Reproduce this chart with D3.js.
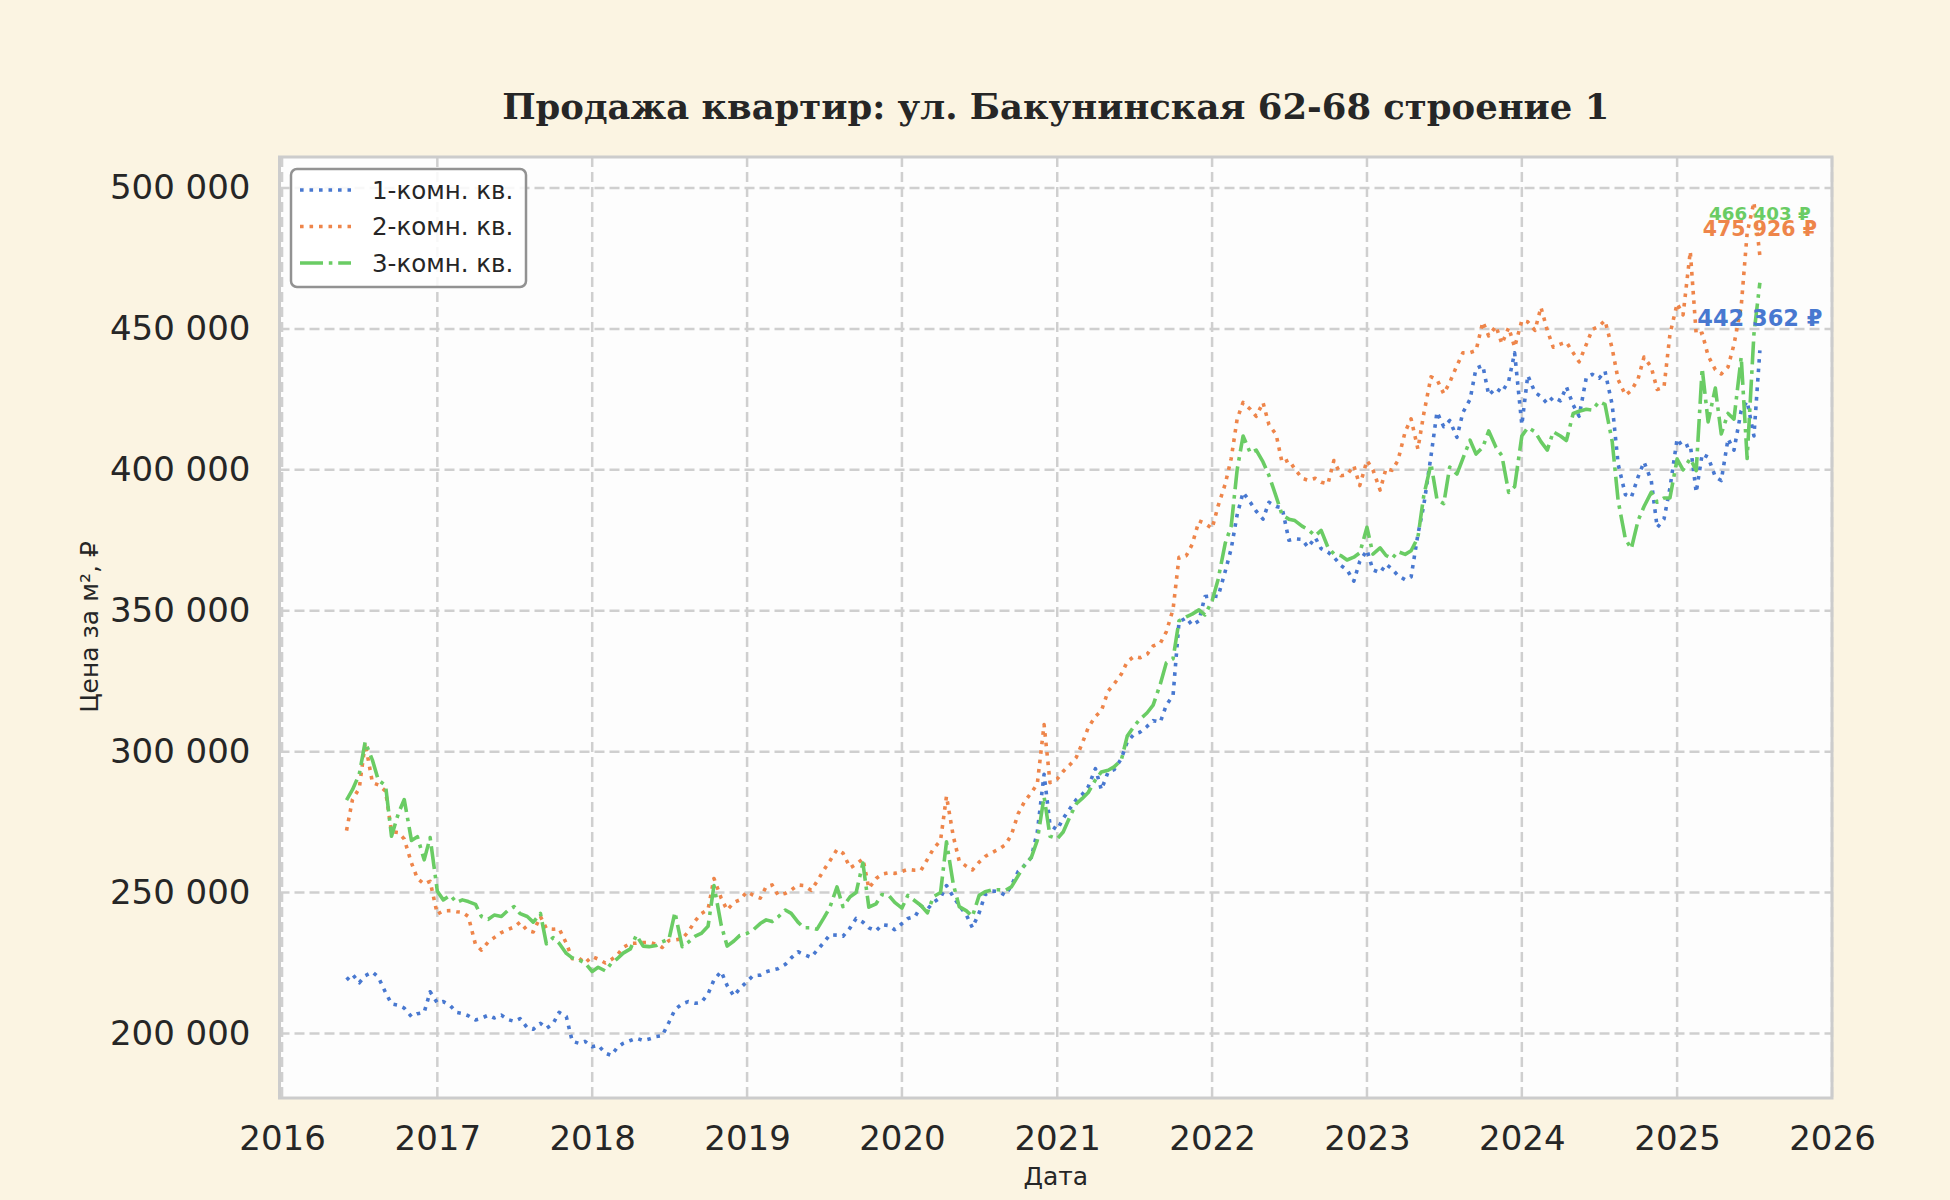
<!DOCTYPE html>
<html>
<head>
<meta charset="utf-8">
<script src="https://cdn.jsdelivr.net/npm/d3@7"></script>
<style>
    body { margin: 0; background: #fbf4e2; }
    svg text { font-family: "DejaVu Sans", sans-serif; fill: #262626; }
</style>
</head>
<body>
<div id="chart"></div>
<script>
/*
    Sampling grid: the 1st and 15th of each month, June 2016 .. July 2025
*/
var dates = d3.timeMonth.range(new Date(2016, 5, 1), new Date(2025, 7, 1))
    .flatMap(function (m) { return [m, d3.timeDay.offset(m, 14)]; });

var yearTicks = [2016, 2017, 2018, 2019, 2020, 2021, 2022, 2023, 2024, 2025, 2026];
var priceTicks = [200000, 250000, 300000, 350000, 400000, 450000, 500000];

var seriesNames = ["1-комн. кв.", "2-комн. кв.", "3-комн. кв."];

/*
    Price per m2 (same length as dates)
*/
var oneRoom = [
    219000, 221000, 218000, 220500, 221800, 220000, 214500, 210500, 210000, 209000, 206000, 207000, 207500, 214800,
    210800, 211300, 209800, 207500, 207100, 206300, 204800, 205400, 206500, 205500, 206500, 205000,
    204300, 205300, 202000, 201500, 203600, 201800, 203500, 207500, 206000, 197200, 196500, 197200,
    195300, 195800, 193000, 192200, 195000, 196500, 197500, 198300, 197500, 198000, 198900, 199200,
    204000, 208500, 210500, 211300, 210700, 211000, 214000, 219000, 222000, 217000, 213300, 216000,
    218400, 220500, 220700, 221900, 222500, 223000, 224500, 226800, 229000, 228000, 227000, 229500,
    232300, 235000, 234900, 234500, 237500, 240800, 239500, 237500, 236400, 238600, 238300, 236800,
    239000, 240800, 241500, 245200, 244100, 246500, 248200, 252500, 248500, 245400, 242000, 237500,
    242800, 249300, 250500, 250400, 249000, 252500, 257500, 259500, 262500, 271500, 292000, 274000,
    272300, 276300, 280000, 283000, 284800, 287500, 294000, 286500, 292800, 293600, 297500, 303500,
    306200, 306900, 309000, 311000, 310500, 316500, 320000, 346000, 347500, 344900, 346400, 355000,
    355300, 355000, 364000, 372000, 384000, 392000, 388500, 385300, 382500, 388500, 387000, 386500,
    375000, 375500, 375300, 372500, 376000, 372000, 370800, 369000, 366000, 364500, 360500, 367500,
    371500, 364500, 363500, 366500, 364800, 362500, 361000, 362000, 377000, 387500, 405000, 420500,
    415300, 417500, 411500, 420300, 425000, 436000, 437000, 426500, 429000, 427500, 431500, 441500,
    416000, 433500, 427500, 426000, 423500, 425800, 424500, 429500, 423000, 419000, 432800, 433900,
    432500, 435000, 423000, 402000, 391200, 390200, 397500, 402800, 396200, 379500, 382500, 393500,
    411000, 408000, 409000, 392000, 405600, 404500, 397500, 396200, 411000, 407000, 421000, 424300, 412000, 442362
];
var twoRoom = [
    272000, 283000, 287000, 303000, 289000, 288200, 286000, 271600, 271300, 269000, 260500, 255000, 253000, 254000,
    242300, 243500, 243600, 243200, 243000, 241500, 231500, 229600, 232500, 234000, 235800, 236800,
    237800, 239500, 236500, 236000, 241500, 237200, 237000, 237200, 232000, 226500, 226700, 225000,
    227300, 226400, 225000, 226200, 227800, 230500, 232000, 232000, 232300, 232300, 231700, 230500,
    233000, 233200, 233600, 236000, 240000, 242500, 244000, 255000, 248000, 243800, 246500, 247400,
    250300, 249100, 248000, 252100, 252700, 249100, 249700, 250900, 252700, 252500, 250800, 254000,
    258000, 261200, 265300, 264000, 258800, 260000, 262000, 251500, 255000, 256500, 257000, 256800,
    257500, 258200, 257900, 257900, 261800, 265500, 268500, 284200, 270000, 261200, 259300, 258000,
    260800, 262800, 264200, 265300, 267000, 270500, 278000, 282000, 285500, 288500, 309600, 289000,
    290300, 293000, 295500, 298000, 303000, 308500, 312500, 314500, 321500, 324000, 327500, 331900,
    333800, 333300, 334600, 337500, 338500, 342500, 350500, 369000, 369500, 373500, 381900, 381000,
    379200, 387100, 395000, 404000, 418000, 423900, 421500, 419000, 423900, 416000, 412500, 402500,
    403500, 400300, 397000, 396300, 397000, 395600, 395000, 403300, 397900, 398200, 401500, 394400,
    403300, 400000, 392800, 400500, 399800, 403300, 413500, 418100, 407400, 420000, 433000, 432000,
    427000, 431000, 437000, 441500, 441600, 442300, 452500, 447500, 451000, 444700, 450500, 443500,
    453000, 452500, 449500, 457700, 449500, 443500, 444600, 445300, 441500, 438300, 444500, 449800,
    451000, 453000, 443000, 432000, 426500, 428100, 432300, 440000, 436400, 428500, 429300, 448000,
    459000, 455000, 477500, 448000, 448500, 440500, 435500, 434000, 436500, 444500, 458000, 484000, 495000, 475926
];
var threeRoom = [
    282800, 286500, 292000, 303500, 297000, 289900, 288000, 270000, 278000, 283000, 268500, 269800, 261600, 269500,
    250500, 247400, 249000, 246500, 247400, 246800, 245800, 241500, 240500, 242000, 241500, 243500,
    245000, 242500, 241500, 239500, 242600, 231800, 234000, 232000, 228400, 226800, 226100, 225000,
    222000, 223500, 222200, 224900, 226500, 228500, 230000, 234900, 231000, 230800, 231200, 232500,
    233500, 243000, 230800, 232300, 234500, 235500, 238000, 252500, 238500, 231000, 232800, 234800,
    235500, 236700, 239000, 240300, 239700, 241300, 243800, 242600, 239500, 237500, 237500, 237000,
    241000, 244700, 252000, 245000, 248500, 250000, 260500, 244800, 246000, 249300, 249000, 246500,
    244500, 249000, 247000, 245400, 242800, 248500, 250000, 268000, 253000, 245000, 243500, 241500,
    249000, 250300, 251000, 251000, 250800, 252000, 256000, 259500, 262500, 268500, 284000, 270000,
    269100, 271500, 277300, 281500, 283400, 285500, 290000, 292800, 293400, 294600, 297000, 305500,
    309000, 311500, 313800, 316500, 324000, 331500, 333000, 346400, 347800, 348800, 350300, 348500,
    353500, 361000, 374000, 380000, 400000, 412000, 406000, 407000, 402800, 398000, 390500, 384000,
    382500, 382000, 380000, 378800, 376600, 378500, 372500, 370200, 369500, 368000, 369000, 370500,
    379600, 370100, 372300, 369600, 368500, 371000, 370000, 371300, 376000, 391000, 402100, 389500,
    388000, 401000, 398500, 404000, 410500, 405600, 408000, 413800, 408000, 405000, 392000, 394000,
    412000, 415000, 413500, 410000, 407000, 413500, 412000, 410400, 420000, 420800, 421500, 421200,
    424200, 423200, 410000, 389000, 375500, 372000, 382000, 387000, 392000, 388500, 390000, 390000,
    403800, 400000, 404000, 399700, 436000, 417000, 429000, 412700, 420000, 418000, 440000, 404000, 448200, 466403
];

/*
    Figure geometry
*/
var W = 1950, H = 1200,
    plot = { left: 279.5, right: 1832, top: 157, bottom: 1098 };

var svg = d3.select("#chart").append("svg")
    .attr("width", W)
    .attr("height", H);

svg.append("rect")
    .attr("width", W).attr("height", H)
    .attr("fill", "#fbf4e2");

var x = d3.scaleTime()
    .domain([new Date(2015, 11, 26), new Date(2026, 0, 1)])
    .range([plot.left, plot.right]);

var y = d3.scaleLinear()
    .domain([177100, 511000])
    .range([plot.bottom, plot.top]);

var fmtPrice = function (v) { return d3.format(",")(v).replace(/,/g, " "); };

/*
    Plot area background + grid
*/
svg.append("rect")
    .attr("x", plot.left).attr("y", plot.top)
    .attr("width", plot.right - plot.left)
    .attr("height", plot.bottom - plot.top)
    .attr("fill", "#fdfdfd");

var grid = svg.append("g").attr("class", "grid")
    .attr("stroke", "#cfcfcf")
    .attr("stroke-width", 2.5)
    .attr("stroke-dasharray", "10,5");

grid.selectAll("line.v")
    .data(yearTicks)
    .enter().append("line")
    .attr("class", "v")
    .attr("x1", function (d) { return x(new Date(d, 0, 1)); })
    .attr("x2", function (d) { return x(new Date(d, 0, 1)); })
    .attr("y1", plot.top)
    .attr("y2", plot.bottom);

grid.selectAll("line.h")
    .data(priceTicks)
    .enter().append("line")
    .attr("class", "h")
    .attr("x1", plot.left)
    .attr("x2", plot.right)
    .attr("y1", function (d) { return y(d); })
    .attr("y2", function (d) { return y(d); });

/*
    Axes (labels only, no tick marks)
*/
var xAxis = d3.axisBottom(x)
    .tickValues(yearTicks.map(function (yr) { return new Date(yr, 0, 1); }))
    .tickFormat(d3.timeFormat("%Y"))
    .tickSize(0)
    .tickPadding(28);

var yAxis = d3.axisLeft(y)
    .tickValues(priceTicks)
    .tickFormat(fmtPrice)
    .tickSize(0)
    .tickPadding(29);

svg.append("g")
    .attr("transform", "translate(0," + plot.bottom + ")")
    .call(xAxis)
    .call(function (g) { g.select(".domain").remove(); })
    .selectAll("text")
    .attr("font-size", 34)
    .attr("font-family", "DejaVu Sans")
    .attr("fill", "#262626");

svg.append("g")
    .attr("transform", "translate(" + plot.left + ",0)")
    .call(yAxis)
    .call(function (g) { g.select(".domain").remove(); })
    .selectAll("text")
    .attr("font-size", 34)
    .attr("font-family", "DejaVu Sans")
    .attr("fill", "#262626");

/*
    Series lines
*/
var series = [
    { name: seriesNames[0], values: oneRoom, color: "#4878d0", width: 3.6, dash: "3.6,5.9" },
    { name: seriesNames[1], values: twoRoom, color: "#ee854a", width: 3.6, dash: "3.6,5.9" },
    { name: seriesNames[2], values: threeRoom, color: "#6acc64", width: 3.6, dash: "23,5.8,3.6,5.8" }
];

var line = d3.line()
    .x(function (d, i) { return x(dates[i]); })
    .y(function (d) { return y(d); });

svg.append("clipPath").attr("id", "plotClip")
    .append("rect")
    .attr("x", plot.left).attr("y", plot.top)
    .attr("width", plot.right - plot.left)
    .attr("height", plot.bottom - plot.top);

svg.append("g")
    .attr("clip-path", "url(#plotClip)")
    .selectAll("path")
    .data(series)
    .enter().append("path")
    .attr("d", function (d) { return line(d.values); })
    .attr("fill", "none")
    .attr("stroke", function (d) { return d.color; })
    .attr("stroke-width", function (d) { return d.width; })
    .attr("stroke-dasharray", function (d) { return d.dash; })
    .attr("stroke-linejoin", "round");

/*
    Last-value labels
*/
var lastDate = dates[dates.length - 1];
var endLabels = [
    { s: series[0], size: 22.5, lift: 24 },
    { s: series[1], size: 20.5, lift: 20 },
    { s: series[2], size: 18.3, lift: 63 }
];
svg.append("g").selectAll("text")
    .data(endLabels)
    .enter().append("text")
    .attr("x", x(lastDate))
    .attr("y", function (d) { return y(d.s.values[d.s.values.length - 1]) - d.lift; })
    .attr("text-anchor", "middle")
    .attr("font-weight", "bold")
    .attr("font-size", function (d) { return d.size; })
    .style("fill", function (d) { return d.s.color; })
    .text(function (d) { return fmtPrice(d.s.values[d.s.values.length - 1]) + " ₽"; });

/*
    Spines
*/
svg.append("rect")
    .attr("x", plot.left).attr("y", plot.top)
    .attr("width", plot.right - plot.left)
    .attr("height", plot.bottom - plot.top)
    .attr("fill", "none")
    .attr("stroke", "#cccccc")
    .attr("stroke-width", 3);

/*
    Legend
*/
var legend = svg.append("g").attr("transform", "translate(291,169)");
legend.append("rect")
    .attr("width", 235).attr("height", 118)
    .attr("rx", 6).attr("ry", 6)
    .attr("fill", "#ffffff").attr("fill-opacity", 0.85)
    .attr("stroke", "#929292").attr("stroke-width", 2.5);

var rows = legend.selectAll("g.row")
    .data(series)
    .enter().append("g")
    .attr("class", "row")
    .attr("transform", function (d, i) { return "translate(0," + (21 + i * 36.5) + ")"; });

rows.append("line")
    .attr("x1", 9).attr("x2", 60)
    .attr("stroke", function (d) { return d.color; })
    .attr("stroke-width", function (d) { return d.width; })
    .attr("stroke-dasharray", function (d) { return d.dash; });

rows.append("text")
    .attr("x", 81)
    .attr("dy", "0.35em")
    .attr("font-size", 24.5)
    .text(function (d) { return d.name; });

/*
    Titles
*/
svg.append("text")
    .attr("x", (plot.left + plot.right) / 2)
    .attr("y", 119)
    .attr("text-anchor", "middle")
    .attr("font-size", 35.4)
    .attr("font-weight", "bold")
    .style("font-family", "'DejaVu Serif', serif")
    .text("Продажа квартир: ул. Бакунинская 62-68 строение 1");

svg.append("text")
    .attr("x", (plot.left + plot.right) / 2)
    .attr("y", 1185)
    .attr("text-anchor", "middle")
    .attr("font-size", 25)
    .text("Дата");

svg.append("text")
    .attr("transform", "translate(98,627) rotate(-90)")
    .attr("text-anchor", "middle")
    .attr("font-size", 25)
    .text("Цена за м², ₽");
</script>
</body>
</html>
